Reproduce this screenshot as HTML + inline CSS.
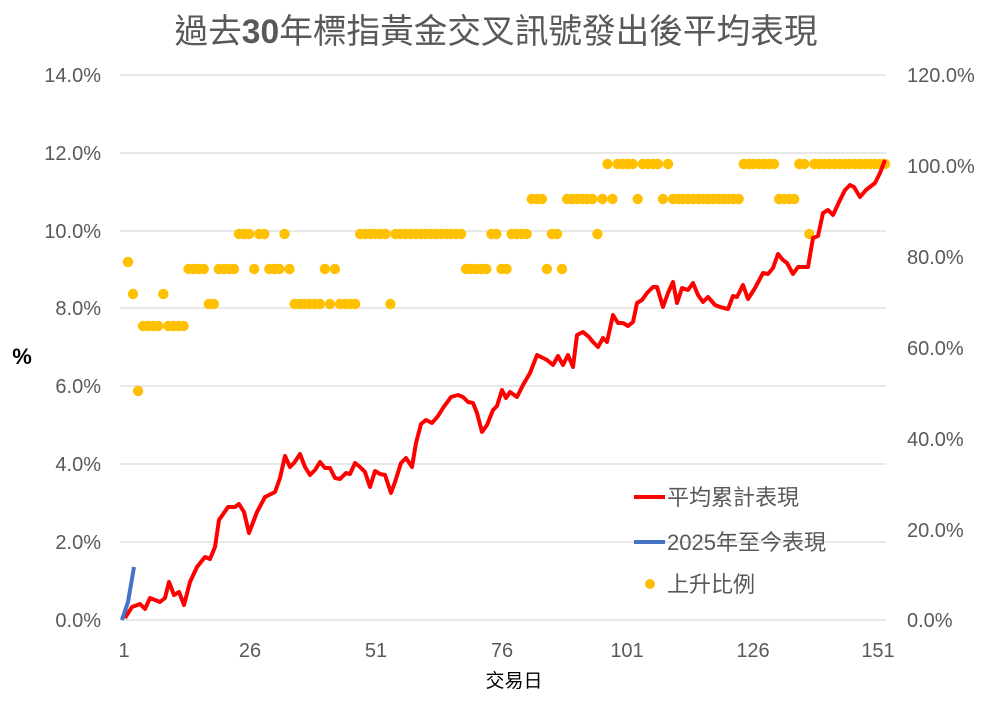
<!DOCTYPE html>
<html><head><meta charset="utf-8"><style>
body{margin:0;background:#fff}
svg text{font-family:"Liberation Sans","Noto Sans CJK TC",sans-serif}
</style></head><body>
<svg width="990" height="708" viewBox="0 0 990 708" xmlns="http://www.w3.org/2000/svg">
<text x="496" y="43" text-anchor="middle" font-size="34" fill="#595959" textLength="643" lengthAdjust="spacingAndGlyphs">過去<tspan font-weight="bold">30</tspan>年標指黃金交叉訊號發出後平均表現</text>
<g stroke="#d9d9d9" stroke-width="1.3">
<line x1="120" x2="886" y1="75" y2="75"/><line x1="120" x2="886" y1="153" y2="153"/>
<line x1="120" x2="886" y1="231" y2="231"/><line x1="120" x2="886" y1="308" y2="308"/>
<line x1="120" x2="886" y1="386" y2="386"/><line x1="120" x2="886" y1="464" y2="464"/>
<line x1="120" x2="886" y1="542" y2="542"/><line x1="120" x2="886" y1="620" y2="620"/>
</g>
<g font-size="20" fill="#595959" text-anchor="end">
<text x="101" y="82">14.0%</text><text x="101" y="160">12.0%</text><text x="101" y="238">10.0%</text>
<text x="101" y="315">8.0%</text><text x="101" y="393">6.0%</text><text x="101" y="471">4.0%</text>
<text x="101" y="549">2.0%</text><text x="101" y="627">0.0%</text>
</g>
<g font-size="20" fill="#595959">
<text x="907" y="82">120.0%</text><text x="907" y="173">100.0%</text><text x="907" y="264">80.0%</text>
<text x="907" y="355">60.0%</text><text x="907" y="446">40.0%</text><text x="907" y="537">20.0%</text>
<text x="907" y="627">0.0%</text>
</g>
<g font-size="20" fill="#595959" text-anchor="middle">
<text x="124" y="657">1</text><text x="250" y="657">26</text><text x="376" y="657">51</text>
<text x="502" y="657">76</text><text x="627" y="657">101</text><text x="753" y="657">126</text><text x="878" y="657">151</text>
</g>
<text x="22" y="364" font-size="22" font-weight="bold" text-anchor="middle">%</text>
<text x="514" y="687" font-size="19" text-anchor="middle" font-family="Liberation Serif,Noto Serif CJK SC,serif">交易日</text>
<g id="dots" fill="#ffc000"></g>
<polyline fill="none" stroke="#ff0000" stroke-width="4" stroke-linejoin="round" points="125,618 132,607 140,604 145,609 150,598 160,602 165,598 169,582 174,595 179,592 184,605 190,582 197,567 205,557 210,559 215,547 219,520 228,507 235,507 239,504 244,512 249,533 257,512 265,497 275,492 280,478 285,456 290,467 294,463 300,454 305,467 310,475 315,470 320,462 325,468 330,468 335,478 340,479 346,473 350,474 355,463 360,467 365,472 370,487 375,471 380,474 385,475 391,493 395,482 401,463 406,458 412,467 416,443 421,424 426,420 432,423 438,416 443,408 451,397 458,395 463,397 468,402 473,403 477,413 482,432 487,425 493,410 497,406 502,390 506,398 510,392 517,397 523,385 530,373 537,355 547,360 553,365 558,356 563,365 568,355 573,367 577,335 583,332 589,337 593,342 598,347 603,338 607,342 613,315 618,323 623,323 628,326 633,322 637,303 642,300 647,293 653,287 657,287 663,307 668,293 673,282 677,303 682,288 688,290 693,283 698,295 703,302 708,297 715,305 720,307 728,309 733,296 737,297 743,285 748,299 755,288 763,273 768,274 773,268 778,254 783,260 787,263 793,274 798,267 808,267 813,238 818,236 823,213 828,210 833,215 840,200 845,190 850,185 854,187 860,197 866,190 875,183 880,173 885,160"/>
<polyline fill="none" stroke="#4472c4" stroke-width="4" points="122,620 128,602 134,567"/>
<line x1="634" y1="497" x2="665" y2="497" stroke="#ff0000" stroke-width="4"/>
<line x1="634" y1="542" x2="665" y2="542" stroke="#4472c4" stroke-width="4"/>
<circle cx="650" cy="584" r="5" fill="#ffc000"/>
<g font-size="22" fill="#595959">
<text x="667" y="505">平均累計表現</text>
<text x="667" y="550">2025年至今表現</text>
<text x="667" y="592">上升比例</text>
</g>
</svg>
<script>
var L=[];
function s(a,b,y){for(var i=a;i<=b;i++)L[i]=y;}
s(0,0,262);s(1,1,294);s(2,2,391);s(3,6,326);s(7,7,294);s(8,11,326);s(12,15,269);s(16,17,304);
s(18,21,269);s(22,24,234);s(25,25,269);s(26,27,234);s(28,30,269);s(31,31,234);s(32,32,269);
s(33,38,304);s(39,39,269);s(40,40,304);s(41,41,269);s(42,45,304);s(46,51,234);s(52,52,304);
s(53,66,234);s(67,71,269);s(72,73,234);s(74,75,269);s(76,79,234);s(80,82,199);s(83,83,269);
s(84,85,234);s(86,86,269);s(87,92,199);s(93,93,234);s(94,94,199);s(95,95,164);s(96,96,199);
s(97,107,164);s(101,101,199);s(106,106,199);s(108,121,199);s(122,128,164);s(129,132,199);s(133,150,164);s(135,135,234);
var g=document.getElementById('dots'),h='';
for(var i=0;i<=150;i++){h+='<circle cx="'+(128+i*5.047).toFixed(1)+'" cy="'+L[i]+'" r="5.2"/>';}
g.innerHTML=h;
</script>
</body></html>
